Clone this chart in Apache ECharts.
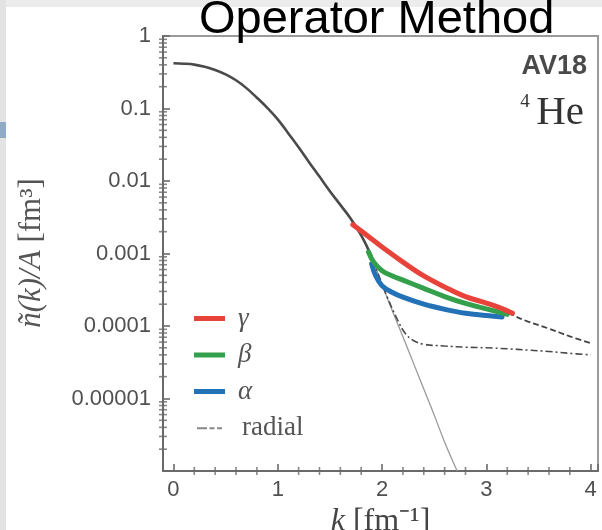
<!DOCTYPE html>
<html>
<head>
<meta charset="utf-8">
<script src="https://cdn.jsdelivr.net/npm/echarts@6/dist/echarts.min.js"></script>
<style>html,body{margin:0;padding:0;background:#fff}#c{width:602px;height:530px}</style>
</head>
<body>
<div id="c"></div>
<script>
// ---- data ----
const kTotal = [0,0.1,0.2,0.3,0.4,0.5,0.6,0.7,0.8,0.9,1.0,1.1,1.2,1.3,1.4,1.5,1.6,1.7,1.8,1.9];
const nTotal = [0.42,0.415,0.403,0.376,0.339,0.295,0.245,0.191,0.141,0.102,0.0708,0.0457,0.0292,0.0182,0.0115,0.00724,0.00468,0.00302,0.00178,0.00091];

const kThin = [1.5,1.6,1.7,1.8,1.9,2.0,2.1,2.2,2.3,2.4,2.5,2.6,2.72];
const nThin = [0.00724,0.00468,0.00302,0.00178,9.1e-4,3.7e-4,1.6e-4,7.1e-5,3.1e-5,1.35e-5,5.9e-6,2.5e-6,1.0e-6];

const kDashDot = [1.85,1.95,2.05,2.15,2.22,2.3,2.4,2.6,2.8,3.0,3.2,3.4,3.6,3.8,4.0];
const nDashDot = [1.28e-3,5.8e-4,2.5e-4,1.2e-4,8.0e-5,6.3e-5,5.6e-5,5.3e-5,5.1e-5,5.0e-5,4.85e-5,4.65e-5,4.45e-5,4.2e-5,4.0e-5];

const kGamma = [1.72,1.8,1.9,2.0,2.2,2.4,2.6,2.8,3.0,3.15,3.25];
const nGamma = [2.5e-3,2.05e-3,1.58e-3,1.23e-3,7.6e-4,4.9e-4,3.45e-4,2.54e-4,2.07e-4,1.74e-4,1.5e-4];

const kBeta = [1.87,1.92,2.0,2.1,2.2,2.4,2.6,2.8,3.0,3.2];
const nBeta = [1.05e-3,7.6e-4,5.8e-4,4.9e-4,4.3e-4,3.3e-4,2.55e-4,2.05e-4,1.72e-4,1.45e-4];

const kAlpha = [1.9,1.94,2.0,2.1,2.2,2.4,2.6,2.8,3.0,3.15];
const nAlpha = [7.2e-4,4.9e-4,3.6e-4,2.9e-4,2.5e-4,2.0e-4,1.7e-4,1.5e-4,1.4e-4,1.33e-4];

const kRadial = [1.72,1.8,1.9,2.0,2.2,2.4,2.6,2.8,3.0,3.15,3.25,3.4,3.6,3.8,4.0];
const nRadial = [2.5e-3,2.05e-3,1.58e-3,1.23e-3,7.6e-4,4.9e-4,3.45e-4,2.54e-4,2.07e-4,1.72e-4,1.42e-4,1.15e-4,9.2e-5,7.2e-5,5.8e-5];

const xTickValues = [0,1,2,3,4];
const xTickLabels = ['0','1','2','3','4'];
const yTickValues = [1,0.1,0.01,0.001,0.0001,0.00001];
const yTickLabels = ['1','0.1','0.01','0.001','0.0001','0.00001'];
const xMinorTicks = [0.2,0.4,0.6,0.8,1.2,1.4,1.6,1.8,2.2,2.4,2.6,2.8,3.2,3.4,3.6,3.8];
const yMinorMantissa = [2,3,4,5,6,7,8,9];
const yDecades = [1e-6,1e-5,1e-4,1e-3,1e-2,1e-1];

const legendNames = ['γ','β','α','radial'];
const titleText = 'Operator Method';

// ---- build ----
const XMIN = -0.1, XMAX = 4.07, YMIN = 1e-6, YMAX = 1;
const zip = (a, b) => a.map((v, i) => [v, b[i]]);
const yMinor = [];
yDecades.forEach(d => yMinorMantissa.forEach(m => yMinor.push(d * m)));

const chart = echarts.init(document.getElementById('c'), null, {renderer: 'canvas'});
const axisGrey = '#6a6a6a';
const dashIcon = 'path://M0,0h0.01v0.01h-0.01z M30,6h0.01v0.01h-0.01z M0,2h12v2.4h-12z M15,2h6v2.4h-6z M24,2h6v2.4h-6z';

const option = {
  backgroundColor: '#ffffff',
  animation: false,
  grid: {left: 163, right: 4, top: 36, bottom: 59, containLabel: false, outerBoundsMode: 'none',
         show: true, borderColor: '#9a9a9a', borderWidth: 2, backgroundColor: 'transparent'},
  xAxis: {
    type: 'value', min: XMIN, max: XMAX, splitNumber: 4, minInterval: 1, maxInterval: 1,
    axisLine: {show: true, onZero: false, lineStyle: {color: axisGrey, width: 2}},
    axisTick: {show: true, inside: true, length: 7, lineStyle: {color: axisGrey, width: 1.6}},
    splitLine: {show: false},
    axisLabel: {
      margin: 8, color: '#505050', fontSize: 22, fontFamily: 'Liberation Sans',
      formatter: v => { const i = xTickValues.findIndex(t => Math.abs(t - v) < 1e-6); return i >= 0 ? xTickLabels[i] : ''; }
    },
    name: '{i|k}{u| [fm⁻¹]}', nameLocation: 'middle', nameGap: 30,
    nameTextStyle: {rich: {
      i: {color: '#444', fontSize: 32, fontFamily: 'Liberation Serif', fontStyle: 'italic'},
      u: {color: '#444', fontSize: 32, fontFamily: 'Liberation Serif'}
    }}
  },
  yAxis: {
    type: 'log', logBase: 10, min: YMIN, max: YMAX, splitNumber: 6,
    axisLine: {show: true, onZero: false, lineStyle: {color: axisGrey, width: 2}},
    axisTick: {show: true, inside: true, length: 7, lineStyle: {color: axisGrey, width: 1.6}},
    splitLine: {show: false},
    axisLabel: {
      margin: 12, color: '#505050', fontSize: 22, fontFamily: 'Liberation Sans',
      formatter: v => { const i = yTickValues.findIndex(t => Math.abs(Math.log10(t) - Math.log10(v)) < 1e-6); return i >= 0 ? yTickLabels[i] : ''; }
    }
  },
  legend: {
    data: legendNames.map(n => ({name: n, icon: n === 'radial' ? dashIcon : 'rect'})),
    orient: 'vertical', left: 189, top: 300,
    itemWidth: 31, itemHeight: 5, itemGap: 9.5,
    formatter: n => n === 'radial' ? '{r|' + n + '}' : '{g|' + n + '}',
    textStyle: {
      rich: {
        g: {fontSize: 27, fontFamily: 'Liberation Serif', fontStyle: 'italic', color: '#555', lineHeight: 26, padding: [0,0,0,8]},
        r: {fontSize: 27, fontFamily: 'Liberation Serif', color: '#555', lineHeight: 26, padding: [0,0,0,12]}
      }
    }
  },
  graphic: [
    {type: 'rect', z: -10, shape: {x: 0, y: 0, width: 602, height: 7}, style: {fill: '#ececec'}},
    {type: 'rect', z: -10, shape: {x: 0, y: 0, width: 6, height: 530}, style: {fill: '#e3e3e3'}},
    {type: 'rect', z: -9, shape: {x: 0, y: 122, width: 6, height: 16}, style: {fill: '#8fabc6'}},
    {type: 'text', z: 100, x: 199, y: 20, style: {text: titleText, fill: '#000', fontSize: 47, fontFamily: 'Liberation Sans', align: 'left', verticalAlign: 'middle'}},
    {type: 'text', z: 50, x: 587, y: 67, style: {text: 'AV18', fill: '#4a4a4a', fontSize: 27, fontWeight: 'bold', fontFamily: 'Liberation Sans', align: 'right', verticalAlign: 'middle'}},
    {type: 'text', z: 50, x: 584, y: 113, style: {text: 'He', fill: '#333', fontSize: 41, fontFamily: 'Liberation Serif', align: 'right', verticalAlign: 'middle'}},
    {type: 'text', z: 50, x: 525, y: 102, style: {text: '4', fill: '#333', fontSize: 19, fontFamily: 'Liberation Serif', align: 'center', verticalAlign: 'middle'}},
    {type: 'text', z: 50, x: 32, y: 253, rotation: Math.PI / 2, style: {
      text: '{i|ñ(k)/A}{u| [fm³]}', align: 'center', verticalAlign: 'middle',
      rich: {
        i: {fill: '#555', fontSize: 31, fontFamily: 'Liberation Serif', fontStyle: 'italic'},
        u: {fill: '#555', fontSize: 31, fontFamily: 'Liberation Serif'}
      }}}
  ],
  series: [
    {type: 'line', name: 'thin', data: zip(kThin, nThin), smooth: 0.4, showSymbol: false, symbol: 'none', z: 2,
     lineStyle: {color: '#9a9a9a', width: 1.3}},
    {type: 'line', name: 'total', data: zip(kTotal, nTotal), smooth: 0.4, showSymbol: false, symbol: 'none', z: 3,
     lineStyle: {color: '#4a4a4a', width: 2.6}},
    {type: 'line', name: 'dashdot', data: zip(kDashDot, nDashDot), smooth: 0.4, showSymbol: false, symbol: 'none', z: 3,
     lineStyle: {color: '#4a4a4a', width: 1.6, type: [7, 3, 2, 3]}},
    {type: 'line', name: 'radial', data: zip(kRadial, nRadial), smooth: 0.4, showSymbol: false, symbol: 'none', z: 3,
     lineStyle: {color: '#444', width: 1.8, type: [6, 3]}, itemStyle: {color: '#888'}},
    {type: 'line', name: 'α', data: zip(kAlpha, nAlpha), smooth: 0.4, showSymbol: false, symbol: 'none', z: 4,
     lineStyle: {color: '#2371b6', width: 5, cap: 'round'}, itemStyle: {color: '#2371b6'}},
    {type: 'line', name: 'β', data: zip(kBeta, nBeta), smooth: 0.4, showSymbol: false, symbol: 'none', z: 5,
     lineStyle: {color: '#35a04c', width: 5, cap: 'round'}, itemStyle: {color: '#35a04c'}},
    {type: 'line', name: 'γ', data: zip(kGamma, nGamma), smooth: 0.4, showSymbol: false, symbol: 'none', z: 6,
     lineStyle: {color: '#e8433b', width: 5, cap: 'round'}, itemStyle: {color: '#e8433b'}},
    {type: 'scatter', name: 'yminor', silent: true, clip: false, z: 7,
     data: yMinor.map(v => [XMIN, v]),
     symbol: 'rect', symbolSize: [8, 1.6], itemStyle: {color: axisGrey}},
    {type: 'scatter', name: 'xminor', silent: true, clip: false, z: 7,
     data: xMinorTicks.map(v => [v, YMIN]),
     symbol: 'rect', symbolSize: [1.6, 8], itemStyle: {color: axisGrey}}
  ]
};
chart.setOption(option);
</script>
</body>
</html>
